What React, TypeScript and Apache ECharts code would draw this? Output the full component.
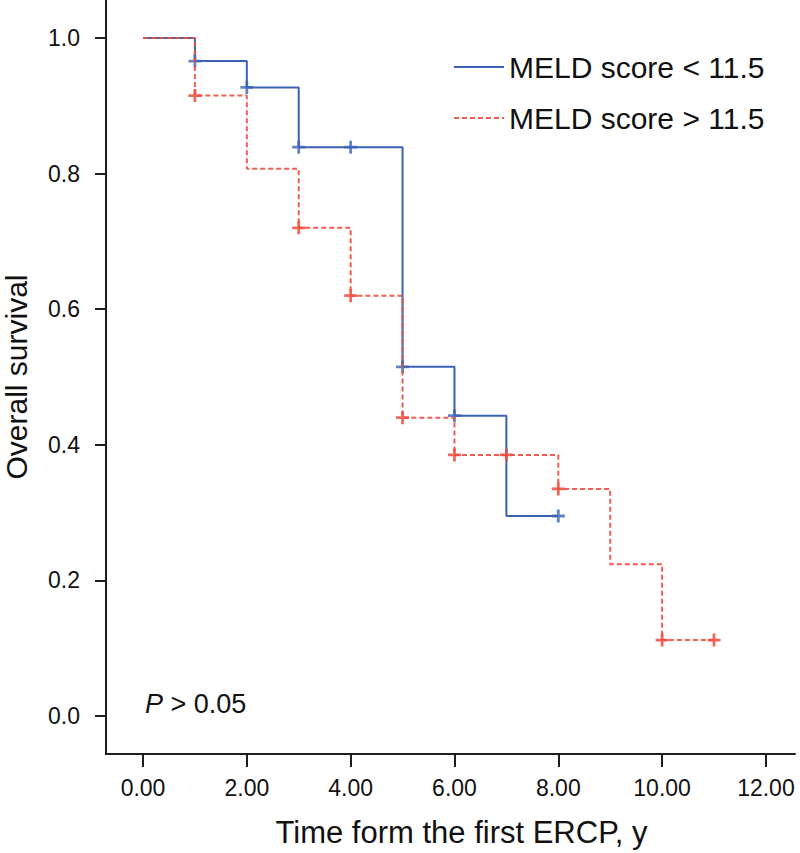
import React, { useEffect, useRef } from "react";
import * as echarts from "echarts";

const seriesNames = ["MELD score < 11.5", "MELD score > 11.5"];

const blueTimes = [0, 1, 2, 3, 5, 6, 7, 8];
const blueSurv = [1.0, 0.966, 0.927, 0.839, 0.515, 0.443, 0.295, 0.295];
const blueCensorTimes = [1, 2, 3, 4, 5, 6, 8];
const blueCensorSurv = [0.966, 0.927, 0.839, 0.839, 0.515, 0.443, 0.295];

const redTimes = [0, 1, 2, 3, 4, 5, 6, 8, 9, 10, 11];
const redSurv = [1.0, 0.915, 0.807, 0.72, 0.62, 0.44, 0.385, 0.335, 0.224, 0.112, 0.112];
const redCensorTimes = [1, 3, 4, 5, 6, 7, 8, 10, 11];
const redCensorSurv = [0.915, 0.72, 0.62, 0.44, 0.385, 0.385, 0.335, 0.112, 0.112];

const xTicks = [0, 2, 4, 6, 8, 10, 12];
const yTicks = [0, 0.2, 0.4, 0.6, 0.8, 1.0];

const BLUE = "#3b63b5";
const RED = "#ee4b3e";
const AXIS = "#1e1e1e";
const FONT = "Liberation Sans, Arial, sans-serif";
const PLUS = "path://M5.5,0 H8.5 V5.5 H14 V8.5 H8.5 V14 H5.5 V8.5 H0 V5.5 H5.5 Z";

const zip = (a: number[], b: number[]) => a.map((v, i) => [v, b[i]]);

export default function App() {
  const ref = useRef<HTMLDivElement>(null);
  useEffect(() => {
    if (!ref.current) return;
    const chart = echarts.init(ref.current, null, { renderer: "svg" });
    chart.setOption({
      animation: false,
      backgroundColor: "#ffffff",
      textStyle: { fontFamily: FONT },
      grid: { left: 106, right: 5, top: 0, bottom: 99, containLabel: false, outerBoundsMode: "none" },
      legend: {
        data: seriesNames,
        orient: "vertical",
        left: 448,
        top: 47,
        itemWidth: 50,
        itemHeight: 14,
        itemGap: 21,
        itemStyle: { opacity: 0 },
        textStyle: { fontSize: 30, color: "#111", fontFamily: FONT },
      },
      xAxis: {
        type: "value",
        min: -0.713,
        max: 12.56,
        splitLine: { show: false },
        axisLine: { show: true, onZero: false, lineStyle: { color: AXIS, width: 2 } },
        axisTick: { show: true, length: 13, lineStyle: { color: AXIS, width: 2 }, customValues: xTicks },
        axisLabel: {
          customValues: xTicks,
          formatter: (v: number) => v.toFixed(2),
          fontSize: 23,
          color: "#111",
          margin: 22,
          fontFamily: FONT,
        },
        name: "Time form the first ERCP, y",
        nameLocation: "middle",
        nameGap: 63,
        nameTextStyle: { fontSize: 31, color: "#111", fontFamily: FONT, padding: [0, 0, 0, 22] },
      },
      yAxis: {
        type: "value",
        min: -0.056,
        max: 1.056,
        splitLine: { show: false },
        axisLine: { show: true, onZero: false, lineStyle: { color: AXIS, width: 2 } },
        axisTick: { show: true, length: 11, lineStyle: { color: AXIS, width: 2 }, customValues: yTicks },
        axisLabel: {
          customValues: yTicks,
          formatter: (v: number) => v.toFixed(1),
          fontSize: 23,
          color: "#111",
          margin: 26,
          fontFamily: FONT,
        },
        name: "Overall survival",
        nameLocation: "middle",
        nameRotate: 90,
        nameGap: 75,
        nameTextStyle: { fontSize: 30, color: "#111", fontFamily: FONT },
      },
      series: [
        {
          name: seriesNames[0],
          type: "line",
          step: "end",
          symbol: "none",
          data: zip(blueTimes, blueSurv),
          lineStyle: { color: BLUE, width: 2 },
          itemStyle: { color: BLUE },
          z: 2,
        },
        {
          name: "censor-low",
          type: "scatter",
          symbol: PLUS,
          symbolSize: 13,
          data: zip(blueCensorTimes, blueCensorSurv),
          itemStyle: { color: BLUE },
          z: 3,
        },
        {
          name: seriesNames[1],
          type: "line",
          step: "end",
          symbol: "none",
          data: zip(redTimes, redSurv),
          lineStyle: { color: RED, width: 2, type: [5, 3], opacity: 0.9 },
          itemStyle: { color: RED },
          z: 4,
        },
        {
          name: "censor-high",
          type: "scatter",
          symbol: PLUS,
          symbolSize: 13,
          data: zip(redCensorTimes, redCensorSurv),
          itemStyle: { color: RED, opacity: 0.85 },
          z: 5,
        },
      ],
      graphic: [
        {
          type: "text",
          left: 145,
          top: 690,
          style: {
            text: "{i|P} > 0.05",
            fontSize: 27,
            fontFamily: FONT,
            fill: "#111",
            rich: {
              i: { fontStyle: "italic", fontSize: 27, fontFamily: FONT, fill: "#111" },
            },
          },
        },
      ],
    });
    return () => chart.dispose();
  }, []);
  return (
    <div
      ref={ref}
      style={{ position: "fixed", left: 0, top: 0, width: 800, height: 853, background: "#fff" }}
    />
  );
}
